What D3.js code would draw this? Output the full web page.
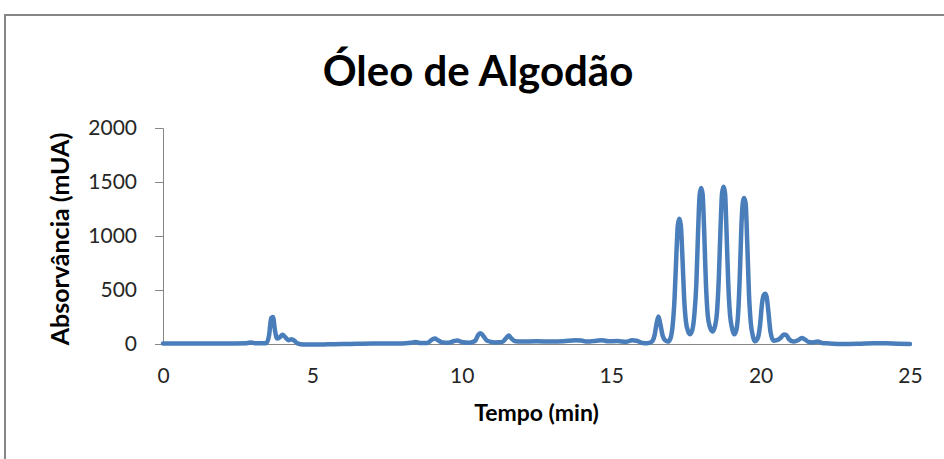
<!DOCTYPE html>
<html>
<head>
<meta charset="utf-8">
<script src="https://cdn.jsdelivr.net/npm/d3@7"></script>
<style>
  html, body { margin: 0; padding: 0; background: #fff; }
  svg { display: block; }
  text { font-family: Lato, "Open Sans", sans-serif; }
</style>
</head>
<body>
<svg id="chart" width="944" height="459"></svg>
<script>
// ---- data ----
const title = "Óleo de Algodão";
const xTitle = "Tempo (min)";
const yTitle = "Absorvância (mUA)";
const xTicks = [0, 5, 10, 15, 20, 25];
const yTicks = [0, 500, 1000, 1500, 2000];

const time = [
  0, 1, 2, 2.8, 2.95, 3.1, 3.45, 3.55, 3.62, 3.68, 3.75, 3.82, 3.9, 4.0, 4.1, 4.2, 4.3, 4.4, 4.5, 4.7,
  5.0, 5.5, 6, 6.5, 7, 7.5, 8, 8.3, 8.45, 8.6, 8.85, 9.0, 9.1, 9.2, 9.35, 9.55, 9.75, 9.85, 10.0, 10.25,
  10.45, 10.55, 10.63, 10.72, 10.85, 11.1, 11.35, 11.5, 11.57, 11.65, 11.8, 12.0, 12.5, 13, 13.4, 13.8, 14.0, 14.2, 14.5, 14.7,
  14.9, 15.2, 15.5, 15.7, 15.85, 16.05, 16.2,
  16.35, 16.45, 16.52, 16.58, 16.64, 16.72, 16.8, 16.9,
  16.98, 17.06, 17.12, 17.18, 17.23, 17.28, 17.33, 17.38, 17.44, 17.5, 17.57, 17.64,
  17.71, 17.78, 17.85, 17.91, 17.96, 18.01, 18.06, 18.11, 18.17, 18.23, 18.3, 18.39,
  18.47, 18.54, 18.6, 18.66, 18.71, 18.76, 18.81, 18.86, 18.92, 18.98, 19.05, 19.12,
  19.19, 19.25, 19.31, 19.36, 19.41, 19.45, 19.5, 19.55, 19.61, 19.67, 19.74, 19.81,
  19.9, 19.98, 20.05, 20.1, 20.15, 20.2, 20.26, 20.33, 20.43,
  20.55, 20.68, 20.78, 20.85, 20.95, 21.09,
  21.25, 21.38, 21.47, 21.6, 21.75, 21.92, 22.05, 22.3, 22.8, 23.3, 23.8, 24.2, 24.6, 25
];
const absorbance = [
  5, 5, 5, 8, 14, 6, 6, 80, 240, 250, 120, 50, 60, 85, 60, 35, 45, 30, 5, -5,
  -5, -3, 0, 2, 5, 5, 5, 12, 18, 10, 10, 40, 50, 35, 15, 12, 28, 32, 18, 12,
  30, 85, 100, 75, 30, 15, 18, 60, 78, 55, 25, 22, 25, 22, 25, 35, 32, 22, 30, 35,
  25, 28, 20, 35, 30, 10, 8,
  20, 80, 190, 255, 190, 80, 35, 22,
  50, 180, 420, 820, 1100, 1160, 1100, 830, 430, 210, 120, 90,
  125, 260, 560, 1060, 1380, 1445, 1385, 1060, 560, 270, 160, 115,
  160, 290, 600, 1080, 1395, 1455, 1395, 1040, 540, 260, 140, 90,
  130, 290, 680, 1110, 1320, 1352, 1300, 960, 470, 200, 75, 25,
  50, 170, 380, 450, 465, 440, 300, 115, 30,
  35, 60, 88, 85, 45, 22,
  35, 55, 45, 20, 15, 22, 10, 5, 0, 3, 8, 6, 2, 0
];

// ---- layout ----
const svg = d3.select("#chart");
const W = 944, H = 459;
const plot = { left: 163, right: 910, top: 128, bottom: 344 };

const x = d3.scaleLinear().domain([0, 25]).range([plot.left, plot.right]);
const y = d3.scaleLinear().domain([0, 2000]).range([plot.bottom, plot.top]);

// outer chart-area border (extends past right/bottom edges)
svg.append("rect")
  .attr("x", 5).attr("y", 15)
  .attr("width", W + 20).attr("height", H + 20)
  .attr("fill", "#fff")
  .attr("stroke", "#868686")
  .attr("stroke-width", 2);

// title
svg.append("text")
  .attr("x", 478).attr("y", 86)
  .attr("text-anchor", "middle")
  .attr("font-size", 42)
  .attr("font-weight", "bold")
  .attr("fill", "#000")
  .text(title);

// y axis
const yAxis = d3.axisLeft(y).tickValues(yTicks).tickSize(8).tickPadding(18).tickFormat(d3.format("d"));
const gy = svg.append("g").attr("transform", `translate(${plot.left},0)`).call(yAxis);
gy.select(".domain").attr("stroke", "#868686").attr("stroke-width", 1);
gy.selectAll(".tick line").attr("stroke", "#868686");
gy.selectAll(".tick text").attr("font-size", 21).attr("fill", "#262626")
  .style("font-family", "Lato, 'Open Sans', sans-serif");

// x axis (no tick marks)
const xAxis = d3.axisBottom(x).tickValues(xTicks).tickSize(0).tickPadding(24).tickFormat(d3.format("d"));
const gx = svg.append("g").attr("transform", `translate(0,${plot.bottom})`).call(xAxis);
gx.select(".domain").attr("stroke", "#868686").attr("stroke-width", 1);
gx.selectAll(".tick text").attr("font-size", 21).attr("fill", "#262626")
  .style("font-family", "Lato, 'Open Sans', sans-serif");

// axis titles
svg.append("text")
  .attr("x", (plot.left + plot.right) / 2).attr("y", 421)
  .attr("text-anchor", "middle")
  .attr("font-size", 23).attr("font-weight", "bold").attr("fill", "#000")
  .text(xTitle);

svg.append("text")
  .attr("transform", `translate(69,${(plot.top + plot.bottom) / 2 + 3}) rotate(-90)`)
  .attr("text-anchor", "middle")
  .attr("font-size", 25).attr("font-weight", "bold").attr("fill", "#000")
  .text(yTitle);

// series line
const pts = time.map((t, i) => [t, absorbance[i]]);
const line = d3.line()
  .x(d => x(d[0]))
  .y(d => y(d[1]))
  .curve(d3.curveMonotoneX);

svg.append("path")
  .datum(pts)
  .attr("fill", "none")
  .attr("stroke", "#4A7EBB")
  .attr("stroke-width", 4.5)
  .attr("stroke-linejoin", "round")
  .attr("stroke-linecap", "round")
  .attr("d", line);
</script>
</body>
</html>
